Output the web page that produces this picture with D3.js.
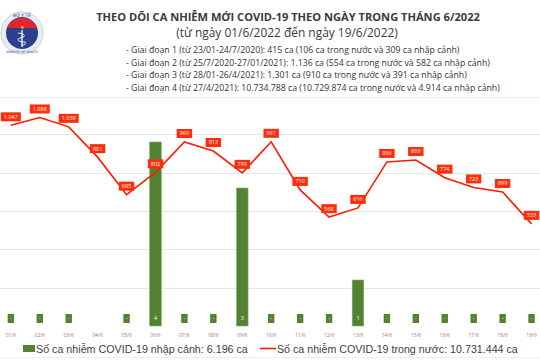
<!DOCTYPE html>
<html><head><meta charset="utf-8">
<script src="https://cdn.jsdelivr.net/npm/d3@7"></script>
<style>body{margin:0;background:#fff}svg{display:block}</style>
</head><body>
<script>
const days = ["01/6","02/6","03/6","04/6","05/6","06/6","07/6","08/6","09/6","10/6","11/6","12/6","13/6","14/6","15/6","16/6","17/6","18/6","19/6"];
const domestic = [1047,1088,1039,881,685,802,960,913,799,961,710,568,616,856,866,774,723,699,533];
const imported = [0,0,0,null,0,4,0,0,3,0,0,0,1,0,0,0,0,0,0];
const lineTicks = [200,400,600,800,1000];
const titleText = "THEO DÕI CA NHIỄM MỚI COVID-19 THEO NGÀY TRONG THÁNG 6/2022";
const subtitleText = "(từ ngày 01/6/2022 đến ngày 19/6/2022)";
const periodLines = [
 "- Giai đoạn 1 (từ 23/01-24/7/2020): 415 ca (106 ca trong nước và 309 ca nhập cảnh)",
 "- Giai đoạn 2 (từ 25/7/2020-27/01/2021): 1.136 ca (554 ca trong nước và 582 ca nhập cảnh)",
 "- Giai đoạn 3 (từ 28/01-26/4/2021): 1.301 ca (910 ca trong nước và 391 ca nhập cảnh)",
 "- Giai đoạn 4 (từ 27/4/2021): 10.734.788 ca (10.729.874 ca trong nước và 4.914 ca nhập cảnh)"
];
const legendImported = "Số ca nhiễm COVID-19 nhập cảnh: 6.196 ca";
const legendDomestic = "Số ca nhiễm COVID-19 trong nước: 10.731.444 ca";

const W=540,H=360;
const svg=d3.select("body").append("svg").attr("width",W).attr("height",H);
const fmt = v => d3.format(",")(v).replace(/,/g,".");
function fit(sel, target){ const n=sel.node(); const fs=parseFloat(sel.attr("font-size")); const w=n.getComputedTextLength(); sel.attr("font-size", fs*target/w); return fs*target/w; }

// header separators
svg.append("line").attr("x1",0).attr("x2",W).attr("y1",97.5).attr("y2",97.5).attr("stroke","#eeeeee");
svg.append("line").attr("x1",0).attr("x2",W).attr("y1",357.5).attr("y2",357.5).attr("stroke","#eeeeee");

// logo
const lg=svg.append("g").attr("transform","translate(22,33)");
lg.append("circle").attr("r",21).attr("fill","#e9ecf2").attr("stroke","#c9ced8");
lg.append("circle").attr("r",16).attr("fill","#2d3f8f");
lg.append("path").attr("d",d3.arc()({innerRadius:0,outerRadius:16,startAngle:-Math.PI*0.62,endAngle:Math.PI*0.62-0.0})).attr("fill","none");
lg.append("path").attr("d","M-15,-5 A16,16 0 0 1 15,-5 Z").attr("fill","#e3262b");
lg.append("text").attr("y",-4.5).attr("text-anchor","middle").attr("font-size",5).attr("fill","#ffde00").text("★");
lg.append("path").attr("d","M0,-3 L0,14").attr("stroke","#fff").attr("stroke-width",1.3);
lg.append("path").attr("d","M-4,0 C4,1 4,4 -2,5 C-6,6 -4,9 2,9 C5,9 4,12 0,12").attr("stroke","#fff").attr("fill","none").attr("stroke-width",1);
lg.append("text").attr("y",-16).attr("text-anchor","middle").attr("font-size",4.5).attr("font-family","DejaVu Sans").attr("fill","#2d3f8f").text("BỘ Y TẾ");
lg.append("text").attr("y",19.5).attr("text-anchor","middle").attr("font-size",3).attr("font-family","DejaVu Sans").attr("fill","#2d3f8f").text("MINISTRY OF HEALTH");

// titles
const hf="'Open Sans', sans-serif";
const t1=svg.append("text").attr("x",288).attr("y",21).attr("text-anchor","middle").attr("font-family",hf).attr("font-weight","bold").attr("font-size",11).attr("fill","#3a3a3a").text(titleText);
fit(t1,384);
const t2=svg.append("text").attr("x",287).attr("y",37).attr("text-anchor","middle").attr("font-family",hf).attr("font-size",11).attr("fill","#3a3a3a").text(subtitleText);
fit(t2,222);
const pl=svg.append("g");
const plTexts=pl.selectAll("text").data(periodLines).join("text").attr("x",126).attr("y",(d,i)=>53+i*12.7).attr("font-family",hf).attr("font-size",8).attr("fill","#333").text(d=>d);
const fs4=fit(d3.select(plTexts.nodes()[3]),374);
plTexts.attr("font-size",fs4);

// scales
const x=d3.scaleBand().domain(days).range([-3.6,546]).padding(0);
const yL=d3.scaleLinear().domain([0,1200]).range([326,96]);
const yB=d3.scaleLinear().domain([0,5]).range([326,96]);

// gridlines
svg.append("g").selectAll("line").data(lineTicks).join("line")
 .attr("x1",0).attr("x2",W).attr("y1",d=>Math.round(yL(d))+0.5).attr("y2",d=>Math.round(yL(d))+0.5)
 .attr("stroke","#e8e8e8").attr("stroke-width",1);

// bars
const bw=x.bandwidth()*0.4;
const green="#548235";
svg.append("g").selectAll("rect").data(days.map((d,i)=>({d,v:imported[i]})).filter(o=>o.v>0)).join("rect")
 .attr("x",o=>x(o.d)+x.bandwidth()/2-bw/2).attr("width",bw)
 .attr("y",o=>yB(o.v)).attr("height",o=>yB(0)-yB(o.v))
 .attr("fill",green).attr("stroke","#7fb25a").attr("stroke-width",0.6);

// bar labels
const bl=svg.append("g").selectAll("g").data(days.map((d,i)=>({d,v:imported[i]})).filter(o=>o.v!==null)).join("g")
 .attr("transform",o=>`translate(${x(o.d)+x.bandwidth()/2},${yB(0)-7.5})`);
bl.append("rect").attr("x",-3.2).attr("y",-4.5).attr("width",6.4).attr("height",9).attr("fill",green);
bl.append("text").attr("text-anchor","middle").attr("dy","0.35em").attr("font-size",5.5).attr("font-family","'Open Sans',sans-serif").attr("fill","#fff").text(o=>o.v===0?"-":o.v);

// line
const line=d3.line().x((v,i)=>x(days[i])+x.bandwidth()/2).y(v=>yL(v));
svg.append("path").datum(domestic).attr("d",line).attr("fill","none").attr("stroke","#ff1a00").attr("stroke-width",1.6);

// line labels
const ll=svg.append("g").selectAll("g").data(domestic).join("g")
 .attr("transform",(v,i)=>`translate(${x(days[i])+x.bandwidth()/2},${yL(v)-8.5})`);
ll.each(function(v){
  const g=d3.select(this);
  const tx=g.append("text").attr("text-anchor","middle").attr("dy","0.35em").attr("font-size",5.5).attr("font-family","'Open Sans',sans-serif").attr("fill","#fff").text(fmt(v));
  const w=tx.node().getComputedTextLength()+6;
  g.insert("rect","text").attr("x",-w/2).attr("y",-4.5).attr("width",w).attr("height",9).attr("fill","#ff2d0a");
});

// x axis labels
const xa=svg.append("g").attr("transform","translate(0,326)").call(d3.axisBottom(x).tickSize(0).tickPadding(7));
xa.select(".domain").remove();
xa.selectAll("text").attr("font-size",5).attr("fill","#7f7f7f").attr("font-family","'Open Sans',sans-serif");

// legend
const lf="'Liberation Sans', Arial, sans-serif";
svg.append("rect").attr("x",23).attr("y",345).attr("width",12).attr("height",7).attr("fill",green);
const l1=svg.append("text").attr("x",36).attr("y",352.5).attr("font-family",lf).attr("font-size",10).attr("fill","#404040").text(legendImported);
fit(l1,212);
svg.append("line").attr("x1",260).attr("x2",276).attr("y1",348.5).attr("y2",348.5).attr("stroke","#ff1a00").attr("stroke-width",1.6);
const l2=svg.append("text").attr("x",277).attr("y",352.5).attr("font-family",lf).attr("font-size",10).attr("fill","#404040").text(legendDomestic);
fit(l2,241);
</script>
</body></html>
